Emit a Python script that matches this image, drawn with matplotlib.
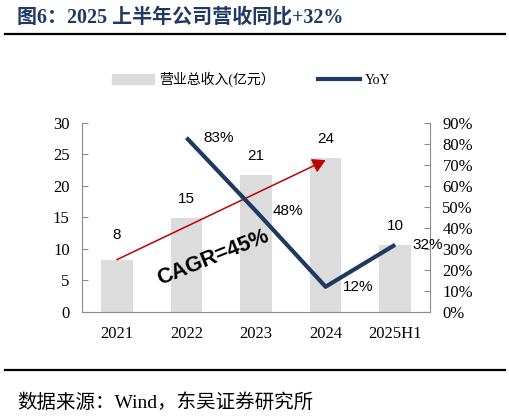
import numpy as np
import matplotlib
matplotlib.use("Agg")
import matplotlib.pyplot as plt
from matplotlib.lines import Line2D
from matplotlib.patches import Patch

# data
categories = ["2021", "2022", "2023", "2024", "2025H1"]
revenue = [8.3, 14.9, 21.7, 24.4, 10.6]
revenue_labels = ["8", "15", "21", "24", "10"]
yoy = [None, 83, 48, 12, 32]
yoy_labels = ["", "83%", "48%", "12%", "32%"]
left_ticks = [0, 5, 10, 15, 20, 25, 30]
right_ticks = [0, 10, 20, 30, 40, 50, 60, 70, 80, 90]

serif_cjk = ["Liberation Serif", "Noto Sans CJK SC"]
navy = "#1f3a60"
bar_grey = "#dcdcdc"
spine_grey = "#8c8c8c"

fig = plt.figure(figsize=(5.1, 4.17), dpi=100)
ax = fig.add_axes([0.161, 0.252, 0.682, 0.453])
ax2 = ax.twinx()

x = np.arange(len(categories))
ax.bar(x, revenue, width=0.45, color=bar_grey, zorder=1)
ax.set_xlim(-0.5, len(categories) - 0.5)
ax.set_ylim(0, 30)
ax.set_yticks(left_ticks)
ax.set_xticks(x)
ax.set_xticklabels(categories)

# bar value labels
label_gap = [18, 12, 12, 12, 12]
for i, (v, s) in enumerate(zip(revenue, revenue_labels)):
    ax.annotate(s, (i, v), xytext=(0, label_gap[i]), textcoords="offset pixels",
                ha="center", va="bottom", fontsize=11, family="Liberation Sans")

# YoY line on right axis
yx = [i for i, v in enumerate(yoy) if v is not None]
yv = [v for v in yoy if v is not None]
ax2.plot(yx, yv, color=navy, lw=3, solid_capstyle="butt", zorder=3)
ax2.set_ylim(0, 90)
ax2.set_yticks(right_ticks)
ax2.set_yticklabels([f"{t}%" for t in right_ticks])
for i, v in zip(yx, yv):
    ax2.annotate(yoy_labels[i], (i, v), xytext=(17, 0), textcoords="offset pixels",
                 ha="left", va="center", fontsize=11, family="Liberation Sans")

# CAGR arrow
ax.annotate("", xy=(3, revenue[3] - 0.3), xytext=(0, revenue[0]),
            arrowprops=dict(arrowstyle="-|>,head_length=0.7,head_width=0.4",
                            color="#c00000", lw=1.1, mutation_scale=11,
                            shrinkA=0, shrinkB=0), zorder=2)
ax.text(1.39, 8.6, "CAGR=45%", rotation=22, ha="center", va="center",
        fontsize=15.5, fontweight="bold", family="Liberation Sans", zorder=4)

# axes styling
for a in (ax, ax2):
    a.spines["top"].set_visible(False)
    a.spines["left"].set_color(spine_grey)
    a.spines["right"].set_color(spine_grey)
    a.spines["bottom"].set_color(spine_grey)
ax.spines["right"].set_visible(False)
ax2.spines["left"].set_visible(False)
ax2.spines["bottom"].set_visible(False)

ax.tick_params(axis="y", direction="in", length=4, color=spine_grey, pad=9, labelsize=12)
ax2.tick_params(axis="y", direction="in", length=4, color=spine_grey, pad=9, labelsize=12)
ax.tick_params(axis="x", length=0, pad=10, labelsize=12)
for lab in ax.get_xticklabels() + ax.get_yticklabels() + ax2.get_yticklabels():
    lab.set_family("Liberation Serif")

# legend
handles = [Patch(color=bar_grey), Line2D([], [], color=navy, lw=3)]
fig.legend(handles, ["营业总收入(亿元）", "YoY"], loc="center",
           bbox_to_anchor=(0.493, 0.81), ncol=2, frameon=False,
           handlelength=3.0, handleheight=0.7, columnspacing=3.1, handletextpad=0.4,
           prop={"family": serif_cjk, "size": 10})

# title, rules and source
fig.text(0.033, 0.958, "图6：2025 上半年公司营收同比+32%", ha="left", va="center",
         fontsize=14.4, fontweight="bold", color="#1f3864", family=serif_cjk)
fig.add_artist(Line2D([0.01, 0.99], [1 - 34 / 417] * 2, color="black", lw=1.6))
fig.add_artist(Line2D([0.01, 0.99], [1 - 370 / 417] * 2, color="black", lw=1.6))
fig.text(0.033, 1 - 403 / 417, "数据来源：Wind，东吴证券研究所", ha="left", va="center",
         fontsize=14, family=serif_cjk)

fig.savefig("out.png", dpi=100)
